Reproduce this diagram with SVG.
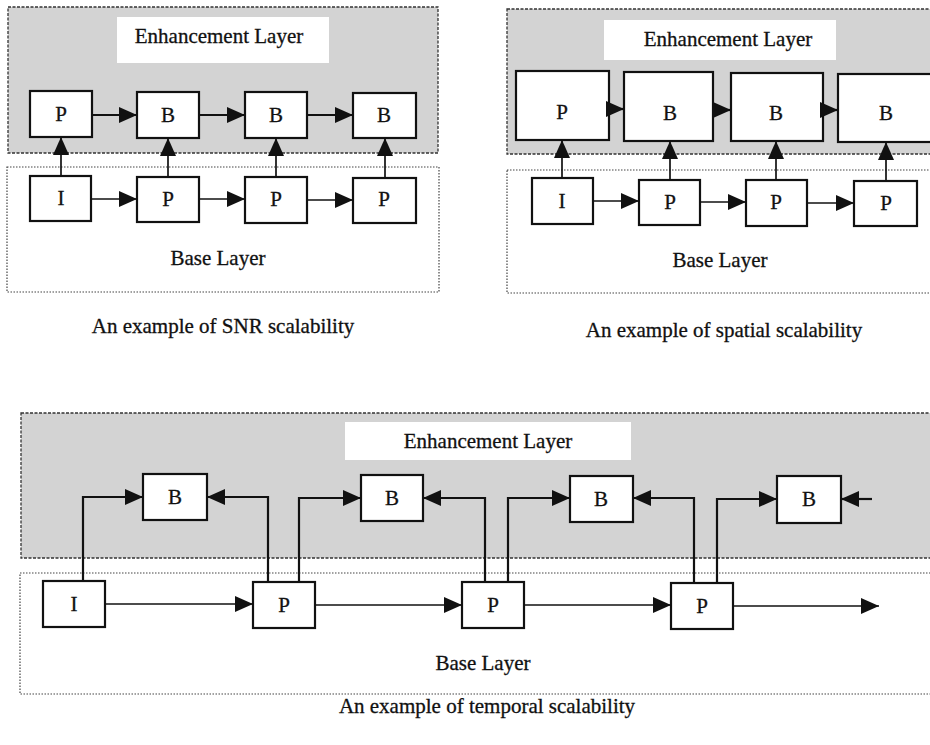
<svg xmlns="http://www.w3.org/2000/svg" width="930" height="745" viewBox="0 0 930 745">
  <style>
    .enh { fill: #d3d3d3; stroke: #333; stroke-width: 1.3; stroke-dasharray: 3 1.5; }
    .base { fill: #fff; stroke: #444; stroke-width: 1.2; stroke-dasharray: 1.5 1.5; }
    .lbl { fill: #fff; stroke: none; }
    .box { fill: #fff; stroke: #111; stroke-width: 2.2; }
    .t { font-family: "Liberation Serif", "Times New Roman", serif; font-size: 21px; fill: #111; stroke: #111; stroke-width: 0.3; text-anchor: middle; }
    .c { fill: none; stroke: #111; stroke-width: 2.2; marker-end: url(#ah); }
    .c1 { fill: none; stroke: #111; stroke-width: 1.7; marker-end: url(#ah); }
  </style>
  <defs>
    <marker id="ah" markerUnits="userSpaceOnUse" markerWidth="18" markerHeight="16" refX="18" refY="8" orient="auto">
      <path d="M0,0 L18,8 L0,16 z" fill="#111"/>
    </marker>
  </defs>
  <rect width="930" height="745" fill="#fff"/>

  <!-- SNR scalability panel -->
  <g id="snr-enhancement-layer">
    <rect class="enh" x="8" y="7" width="430" height="146"/>
    <rect class="lbl" x="117" y="17" width="212" height="46"/>
    <text class="t" x="219" y="43">Enhancement Layer</text>
  </g>
  <g id="snr-base-layer">
    <rect class="base" x="7" y="167" width="432" height="125"/>
    <text class="t" x="218" y="265">Base Layer</text>
  </g>
  <g id="snr-e1"><rect class="box" x="30" y="91" width="62" height="46"/><text class="t" x="61" y="121">P</text></g>
  <g id="snr-e2"><rect class="box" x="137" y="92" width="62" height="46"/><text class="t" x="168" y="122">B</text></g>
  <g id="snr-e3"><rect class="box" x="245" y="92" width="62" height="46"/><text class="t" x="276" y="122">B</text></g>
  <g id="snr-e4"><rect class="box" x="353" y="93" width="63" height="45"/><text class="t" x="384" y="122">B</text></g>
  <g id="snr-b1"><rect class="box" x="30" y="176" width="61" height="45"/><text class="t" x="61" y="205">I</text></g>
  <g id="snr-b2"><rect class="box" x="137" y="177" width="62" height="45"/><text class="t" x="168" y="206">P</text></g>
  <g id="snr-b3"><rect class="box" x="245" y="177" width="62" height="46"/><text class="t" x="276" y="206">P</text></g>
  <g id="snr-b4"><rect class="box" x="353" y="178" width="63" height="45"/><text class="t" x="384" y="206">P</text></g>

  <!-- spatial scalability panel -->
  <g id="spatial-enhancement-layer">
    <rect class="enh" x="507" y="9" width="430" height="145"/>
    <rect class="lbl" x="604" y="20" width="232" height="40"/>
    <text class="t" x="728" y="46">Enhancement Layer</text>
  </g>
  <g id="spatial-base-layer">
    <rect class="base" x="507" y="170" width="430" height="123"/>
    <text class="t" x="720" y="267">Base Layer</text>
  </g>
  <g id="spatial-e1"><rect class="box" x="516" y="71" width="93" height="69"/><text class="t" x="562" y="119">P</text></g>
  <g id="spatial-e2"><rect class="box" x="624" y="72" width="89" height="69"/><text class="t" x="670" y="120">B</text></g>
  <g id="spatial-e3"><rect class="box" x="731" y="73" width="92" height="68"/><text class="t" x="776" y="120">B</text></g>
  <g id="spatial-e4"><rect class="box" x="838" y="74" width="100" height="68"/><text class="t" x="886" y="120">B</text></g>
  <g id="spatial-b1"><rect class="box" x="532" y="178" width="61" height="46"/><text class="t" x="562" y="208">I</text></g>
  <g id="spatial-b2"><rect class="box" x="639" y="180" width="61" height="45"/><text class="t" x="670" y="209">P</text></g>
  <g id="spatial-b3"><rect class="box" x="746" y="180" width="61" height="46"/><text class="t" x="776" y="209">P</text></g>
  <g id="spatial-b4"><rect class="box" x="854" y="181" width="63" height="45"/><text class="t" x="886" y="210">P</text></g>

  <!-- temporal scalability panel -->
  <g id="temporal-enhancement-layer">
    <rect class="enh" x="21" y="413" width="916" height="145"/>
    <rect class="lbl" x="345" y="422" width="286" height="38"/>
    <text class="t" x="488" y="448">Enhancement Layer</text>
  </g>
  <g id="temporal-base-layer">
    <rect class="base" x="20" y="573" width="917" height="121"/>
    <text class="t" x="483" y="670">Base Layer</text>
  </g>
  <g id="temporal-e1"><rect class="box" x="143" y="474" width="64" height="46"/><text class="t" x="175" y="504">B</text></g>
  <g id="temporal-e2"><rect class="box" x="361" y="475" width="62" height="46"/><text class="t" x="392" y="505">B</text></g>
  <g id="temporal-e3"><rect class="box" x="570" y="476" width="63" height="46"/><text class="t" x="601" y="506">B</text></g>
  <g id="temporal-e4"><rect class="box" x="777" y="476" width="64" height="47"/><text class="t" x="809" y="506">B</text></g>
  <g id="temporal-b1"><rect class="box" x="43" y="581" width="62" height="46"/><text class="t" x="74" y="611">I</text></g>
  <g id="temporal-b2"><rect class="box" x="253" y="582" width="62" height="46"/><text class="t" x="284" y="612">P</text></g>
  <g id="temporal-b3"><rect class="box" x="462" y="582" width="62" height="46"/><text class="t" x="493" y="612">P</text></g>
  <g id="temporal-b4"><rect class="box" x="671" y="583" width="62" height="46"/><text class="t" x="702" y="613">P</text></g>

  <!-- connectors -->
  <g id="connectors">
    <!-- SNR: enhancement chain -->
    <path class="c" d="M92,115 L137,115"/>
    <path class="c" d="M199,115 L245,115"/>
    <path class="c" d="M307,115 L353,115"/>
    <!-- SNR: base chain -->
    <path class="c1" d="M91,199 L137,199"/>
    <path class="c1" d="M199,199 L245,199"/>
    <path class="c1" d="M307,200 L353,200"/>
    <!-- SNR: base to enhancement -->
    <path class="c1" d="M61,176 L61,137"/>
    <path class="c1" d="M168,177 L168,138"/>
    <path class="c1" d="M276,177 L276,138"/>
    <path class="c1" d="M385,178 L385,138"/>

    <!-- spatial: enhancement chain -->
    <path class="c" d="M609,109 L624,109"/>
    <path class="c" d="M713,110 L731,110"/>
    <path class="c" d="M823,110 L838,110"/>
    <!-- spatial: base chain -->
    <path class="c1" d="M593,201 L639,201"/>
    <path class="c1" d="M700,202 L746,202"/>
    <path class="c1" d="M807,203 L854,203"/>
    <!-- spatial: base to enhancement -->
    <path class="c1" d="M562,178 L562,140"/>
    <path class="c1" d="M670,180 L670,141"/>
    <path class="c1" d="M776,180 L776,141"/>
    <path class="c1" d="M886,181 L886,142"/>

    <!-- temporal: base chain -->
    <path class="c1" d="M105,604 L253,604"/>
    <path class="c1" d="M315,605 L462,605"/>
    <path class="c1" d="M524,605 L671,605"/>
    <path class="c1" d="M733,606 L879,606"/>
    <!-- temporal: base to enhancement (bidirectional B prediction) -->
    <path class="c" d="M83,581 L83,497 L143,497"/>
    <path class="c" d="M268,582 L268,497 L207,497"/>
    <path class="c" d="M299,582 L299,498 L361,498"/>
    <path class="c" d="M485,582 L485,498 L423,498"/>
    <path class="c" d="M508,582 L508,498 L570,498"/>
    <path class="c" d="M694,583 L694,498 L633,498"/>
    <path class="c" d="M717,583 L717,499 L777,499"/>
    <path class="c" d="M872,499 L841,499"/>
  </g>

  <!-- captions -->
  <text class="t" x="223" y="333">An example of SNR scalability</text>
  <text class="t" x="724" y="337">An example of spatial scalability</text>
  <text class="t" x="487" y="713">An example of temporal scalability</text>
</svg>
